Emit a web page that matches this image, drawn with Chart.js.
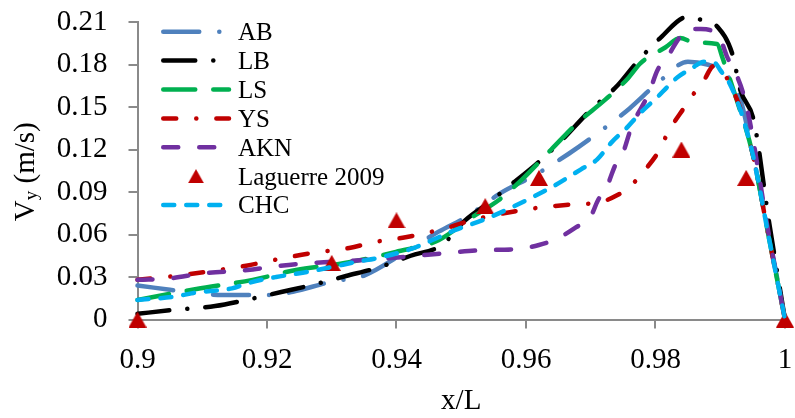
<!DOCTYPE html>
<html>
<head>
<meta charset="utf-8">
<title>Vy profile near the wall</title>
<script src="https://cdn.jsdelivr.net/npm/chart.js@4.4.0/dist/chart.umd.min.js"></script>
<style>
    html, body { margin: 0; padding: 0; background: #fff; }
    #wrap { width: 795px; height: 418px; }
</style>
</head>
<body>
<div id="wrap"><canvas id="vyChart" width="795" height="418"></canvas></div>
<script>
// Axis ticks
const xTicks = [0.9, 0.92, 0.94, 0.96, 0.98, 1.0];
const yTicks = [0, 0.03, 0.06, 0.09, 0.12, 0.15, 0.18, 0.21];

// AB model
const abX = [0.900, 0.905, 0.910, 0.915, 0.921, 0.924, 0.930, 0.935, 0.9408, 0.9465, 0.951, 0.956, 0.9614, 0.9666, 0.9715, 0.976, 0.9806, 0.985, 0.988, 0.990, 0.993, 0.995, 0.9975, 1.000];
const abY = [0.024, 0.021, 0.018, 0.0173, 0.0173, 0.0196, 0.0267, 0.031, 0.046, 0.062, 0.073, 0.089, 0.102, 0.117, 0.133, 0.149, 0.168, 0.182, 0.180, 0.176, 0.157, 0.117, 0.060, 0];

// LB model
const lbX = [0.900, 0.905, 0.912, 0.9168, 0.9222, 0.927, 0.9322, 0.937, 0.9422, 0.947, 0.9506, 0.9547, 0.9568, 0.9614, 0.965, 0.970, 0.9742, 0.9772, 0.9808, 0.9849, 0.9874, 0.9896, 0.9919, 0.9931, 0.9952, 0.9975, 1.000];
const lbY = [0.004, 0.0065, 0.0095, 0.0138, 0.0194, 0.0244, 0.0307, 0.0364, 0.045, 0.0526, 0.070, 0.084, 0.092, 0.109, 0.124, 0.148, 0.1655, 0.182, 0.199, 0.2135, 0.211, 0.2065, 0.187, 0.162, 0.140, 0.070, 0];

// LS model
const lsX = [0.900, 0.9091, 0.9178, 0.9245, 0.9322, 0.9399, 0.9465, 0.9516, 0.9557, 0.9592, 0.9639, 0.968, 0.9722, 0.9757, 0.9777, 0.9815, 0.9838, 0.986, 0.9895, 0.9904, 0.9924, 0.995, 0.9975, 1.000];
const lsY = [0.0138, 0.0215, 0.028, 0.035, 0.040, 0.0477, 0.056, 0.072, 0.084, 0.098, 0.120, 0.139, 0.155, 0.170, 0.181, 0.192, 0.1987, 0.1955, 0.1945, 0.184, 0.157, 0.117, 0.058, 0];

// YS model
const ysX = [0.900, 0.907, 0.9119, 0.9168, 0.9219, 0.927, 0.9327, 0.937, 0.9414, 0.948, 0.9516, 0.9566, 0.9616, 0.9665, 0.9716, 0.9742, 0.976, 0.9777, 0.9808, 0.9818, 0.9845, 0.986, 0.9875, 0.989, 0.9926, 0.995, 0.9975, 1.000];
const ysY = [0.028, 0.0314, 0.0345, 0.038, 0.0427, 0.047, 0.0505, 0.055, 0.058, 0.065, 0.070, 0.075, 0.0787, 0.081, 0.083, 0.088, 0.0935, 0.102, 0.121, 0.131, 0.150, 0.160, 0.169, 0.179, 0.155, 0.117, 0.058, 0];

// AKN model
const aknX = [0.900, 0.905, 0.910, 0.917, 0.9205, 0.9245, 0.9295, 0.935, 0.9415, 0.948, 0.9535, 0.958, 0.962, 0.965, 0.9677, 0.9699, 0.9711, 0.9726, 0.9737, 0.975, 0.9763, 0.979, 0.9803, 0.9818, 0.9834, 0.9849, 0.987, 0.9899, 0.9911, 0.9922, 0.9941, 0.9975, 1.000];
const aknY = [0.028, 0.029, 0.0325, 0.035, 0.037, 0.039, 0.0406, 0.042, 0.0443, 0.047, 0.049, 0.0495, 0.0526, 0.0575, 0.065, 0.072, 0.084, 0.095, 0.108, 0.118, 0.136, 0.160, 0.176, 0.185, 0.197, 0.205, 0.205, 0.199, 0.185, 0.176, 0.150, 0.060, 0];

// Measurements (Laguerre 2009)
const lagX = [0.900, 0.930, 0.940, 0.9537, 0.962, 0.984, 0.994, 1.000];
const lagY = [0, 0.04, 0.07, 0.08, 0.10, 0.12, 0.10, 0];

// CHC model
const chcX = [0.900, 0.9055, 0.909, 0.9146, 0.9173, 0.9214, 0.9255, 0.930, 0.9337, 0.9377, 0.943, 0.946, 0.949, 0.9535, 0.9568, 0.9613, 0.9644, 0.9685, 0.971, 0.9731, 0.9757, 0.9777, 0.9803, 0.9818, 0.9834, 0.9855, 0.9875, 0.9892, 0.990, 0.9914, 0.9931, 0.995, 0.9975, 1.000];
const chcY = [0.0138, 0.016, 0.019, 0.022, 0.026, 0.030, 0.033, 0.037, 0.0406, 0.044, 0.051, 0.057, 0.063, 0.0705, 0.077, 0.087, 0.0945, 0.106, 0.113, 0.1245, 0.136, 0.146, 0.157, 0.164, 0.171, 0.177, 0.182, 0.181, 0.176, 0.167, 0.148, 0.117, 0.058, 0];

const FONT = '"Liberation Serif", "Times New Roman", serif';
const AXIS_GREY = '#8a8a8a';

function toPoints(xs, ys) {
    return xs.map((x, i) => ({ x: x, y: ys[i] }));
}

// Red triangle marker, drawn centred on its bounding box
function makeTriangle(w, h) {
    const c = document.createElement('canvas');
    c.width = w;
    c.height = h;
    const g = c.getContext('2d');
    g.fillStyle = '#C00000';
    g.beginPath();
    g.moveTo(w / 2, 0);
    g.lineTo(w, h);
    g.lineTo(0, h);
    g.closePath();
    g.fill();
    return c;
}
const triangle = makeTriangle(18, 16);

function lineSet(label, xs, ys, color, dash, order) {
    return {
        label: label,
        data: toPoints(xs, ys),
        borderColor: color,
        backgroundColor: color,
        borderWidth: 4.5,
        borderDash: dash,
        borderCapStyle: 'round',
        borderJoinStyle: 'round',
        cubicInterpolationMode: 'monotone',
        pointRadius: 0,
        pointHoverRadius: 0,
        fill: false,
        clip: false,
        order: order
    };
}

// Legend drawn in the upper left of the plot
const legendPlugin = {
    id: 'seriesLegend',
    afterDraw(chart) {
        const ctx = chart.ctx;
        ctx.save();
        ctx.font = '25px ' + FONT;
        ctx.fillStyle = '#000';
        ctx.textAlign = 'left';
        ctx.textBaseline = 'alphabetic';
        chart.data.datasets.forEach((ds, i) => {
            const y = 31.7 + i * 28.9;
            if (ds.showLine === false) {
                ctx.drawImage(triangle, 196 - 8, y - 7, 16, 14);
            } else {
                ctx.strokeStyle = ds.borderColor;
                ctx.lineWidth = ds.borderWidth;
                ctx.lineCap = 'round';
                ctx.setLineDash(ds.borderDash);
                ctx.beginPath();
                ctx.moveTo(163.25, y);
                ctx.lineTo(229, y);
                ctx.stroke();
                ctx.setLineDash([]);
            }
            ctx.fillText(ds.label, 238, y + 8.3);
        });
        ctx.restore();
    }
};

// Axis titles (the y title needs a subscript)
const titlePlugin = {
    id: 'axisTitles',
    afterDraw(chart) {
        const ctx = chart.ctx;
        const area = chart.chartArea;
        ctx.save();
        ctx.fillStyle = '#000';
        ctx.textBaseline = 'alphabetic';
        ctx.font = '29px ' + FONT;
        ctx.textAlign = 'center';
        ctx.fillText('x/L', (area.left + area.right) / 2, 408.5);

        ctx.textAlign = 'left';
        const main = '29px ' + FONT;
        const sub = '19px ' + FONT;
        ctx.font = main;
        const wV = ctx.measureText('V').width;
        const wRest = ctx.measureText(' (m/s)').width;
        ctx.font = sub;
        const wy = ctx.measureText('y').width;
        const total = wV + wy + wRest;
        ctx.translate(33.5, (area.top + area.bottom) / 2 + 1);
        ctx.rotate(-Math.PI / 2);
        let x0 = -total / 2;
        ctx.font = main;
        ctx.fillText('V', x0, 0);
        ctx.font = sub;
        ctx.fillText('y', x0 + wV, 3);
        ctx.font = main;
        ctx.fillText(' (m/s)', x0 + wV + wy, 0);
        ctx.restore();
    }
};

// Initialize Chart
function initChart() {
    const ctx = document.getElementById('vyChart').getContext('2d');

    new Chart(ctx, {
        type: 'line',
        data: {
            datasets: [
                lineSet('AB', abX, abY, '#4F81BD', [36, 20, 0.1, 20], 7),
                lineSet('LB', lbX, lbY, '#000000', [32, 18, 0.1, 18], 6),
                lineSet('LS', lsX, lsY, '#00B050', [32, 18], 5),
                lineSet('YS', ysX, ysY, '#C00000', [13, 20, 0.1, 20], 4),
                lineSet('AKN', aknX, aknY, '#7030A0', [15, 21], 3),
                {
                    label: 'Laguerre 2009',
                    data: toPoints(lagX, lagY),
                    showLine: false,
                    pointStyle: triangle,
                    pointRadius: 9,
                    pointHoverRadius: 9,
                    backgroundColor: '#C00000',
                    borderColor: '#C00000',
                    clip: false,
                    order: 2
                },
                lineSet('CHC', chcX, chcY, '#00B0F0', [11, 12], 1)
            ]
        },
        options: {
            responsive: false,
            devicePixelRatio: 1,
            animation: false,
            events: [],
            layout: {
                padding: { top: 22, right: 7, bottom: 0, left: 0 }
            },
            scales: {
                x: {
                    type: 'linear',
                    min: 0.9,
                    max: 1.0,
                    afterBuildTicks: (s) => { s.ticks = xTicks.map(v => ({ value: v })); },
                    afterFit: (s) => {
                        s.height = 98.5;
                        s.paddingLeft = 0;
                        s.paddingRight = 0;
                    },
                    border: { display: true, color: AXIS_GREY, width: 2 },
                    grid: { drawOnChartArea: false, drawTicks: true, tickLength: 9, color: AXIS_GREY, lineWidth: 2 },
                    ticks: {
                        color: '#000',
                        font: { family: FONT, size: 29 },
                        padding: 14,
                        maxRotation: 0,
                        autoSkip: false,
                        callback: (v) => String(+v.toFixed(2))
                    }
                },
                y: {
                    min: 0,
                    max: 0.21,
                    afterBuildTicks: (s) => { s.ticks = yTicks.map(v => ({ value: v })); },
                    afterFit: (s) => {
                        s.width = 137.5;
                        s.paddingTop = 0;
                        s.paddingBottom = 0;
                    },
                    border: { display: true, color: AXIS_GREY, width: 2 },
                    grid: { drawOnChartArea: false, drawTicks: true, tickLength: 9, color: AXIS_GREY, lineWidth: 2 },
                    ticks: {
                        color: '#000',
                        font: { family: FONT, size: 29 },
                        padding: 21,
                        autoSkip: false,
                        callback: (v) => (v === 0 ? '0' : v.toFixed(2))
                    }
                }
            },
            plugins: {
                legend: { display: false },
                tooltip: { enabled: false }
            }
        },
        plugins: [legendPlugin, titlePlugin]
    });
}

// Initialize on Page Load
document.addEventListener('DOMContentLoaded', initChart);
</script>
</body>
</html>
